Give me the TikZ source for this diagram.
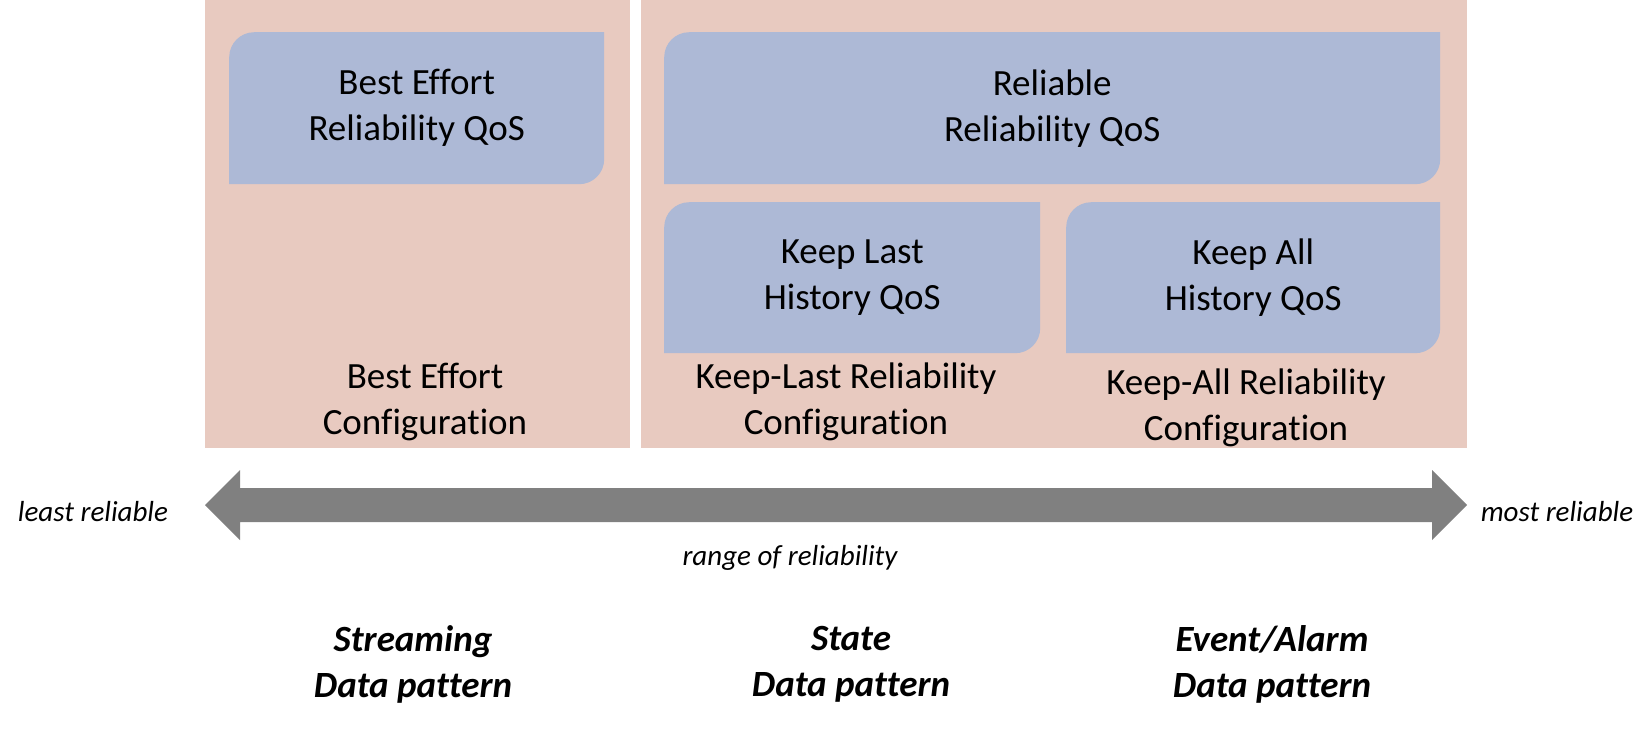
\documentclass[tikz,border=0pt]{standalone}
\usepackage{fontspec}
\setmainfont{Carlito}[Ligatures=NoCommon]
\usetikzlibrary{positioning,calc}

\definecolor{panelpink}{RGB}{232,202,192}
\definecolor{qosblue}{RGB}{173,185,214}
\definecolor{arrowgray}{RGB}{128,128,128}

\begin{document}
\begin{tikzpicture}[x=1pt,y=1pt,
    panel/.style={fill=panelpink, inner sep=0pt, anchor=north west},
    qos/.style={inner sep=0pt, anchor=north west, align=center,
        font=\fontsize{37}{46}\selectfont,
        path picture={\fill[qosblue] (path picture bounding box.south west)
            -- ([yshift=-25pt]path picture bounding box.north west)
            arc[start angle=180, end angle=90, radius=25pt]
            -- (path picture bounding box.north east)
            -- ([yshift=25pt]path picture bounding box.south east)
            arc[start angle=0, end angle=-90, radius=25pt] -- cycle;}},
    cfg/.style={align=center, inner sep=0pt, font=\fontsize{37}{46}\selectfont},
    side/.style={inner sep=0pt, font=\fontsize{29}{35}\selectfont\itshape},
    pattern/.style={align=center, inner sep=0pt, font=\fontsize{37}{46}\selectfont\bfseries\itshape}]

    % Fix the page to the size of the original picture
    \useasboundingbox (0,0) rectangle (1652,-729);

    % The two pink panels
    \node[panel, minimum width=425pt, minimum height=448pt] (bepanel) at (205,0) {};
    \node[panel, minimum width=826pt, minimum height=448pt] (relpanel) at (641,0) {};

    % QoS boxes (top left and bottom right corners rounded)
    \node[qos, minimum width=375pt, minimum height=152pt] (beqos) at (229,-32) {Best Effort\\Reliability QoS};
    \node[qos, minimum width=776pt, minimum height=152pt] (relqos) at (664,-32) {Reliable\\Reliability QoS};
    \node[qos, minimum width=376pt, minimum height=151pt] (lastqos) at (664,-202) {Keep Last\\History QoS};
    \node[qos, minimum width=374pt, minimum height=151pt] (allqos) at (1066,-202) {Keep All\\History QoS};

    % Configuration labels at the bottom of the panels
    \node[cfg] (becfg) at (425,-402) {Best Effort\\Configuration};
    \node[cfg] (lastcfg) at (846,-402) {Keep-Last Reliability\\Configuration};
    \node[cfg] (allcfg) at (1246,-408) {Keep-All Reliability\\Configuration};

    % The double arrow for the range of reliability
    \coordinate (lefttip) at (205,-505);
    \coordinate (righttip) at (1467,-505);
    \fill[arrowgray] (lefttip) -- ++(35,35) -- ++(0,-18)
        -- ($(righttip)+(-35,17)$) -- ++(0,18) -- (righttip)
        -- ++(-35,-35) -- ++(0,18) -- ($(lefttip)+(35,-17)$) -- ++(0,-18) -- cycle;

    % Labels round the arrow
    \node[side] (least) at (93,-512) {least reliable};
    \node[side] (most) at (1557,-512) {most reliable};
    \node[side] (range) at (790,-558) {range of reliability};

    % Data patterns
    \node[pattern] (streaming) at (413,-664) {Streaming\\Data pattern};
    \node[pattern] (state) at (851,-664) {State\\Data pattern};
    \node[pattern] (event) at (1272,-664) {Event/Alarm\\Data pattern};

\end{tikzpicture}
\end{document}
